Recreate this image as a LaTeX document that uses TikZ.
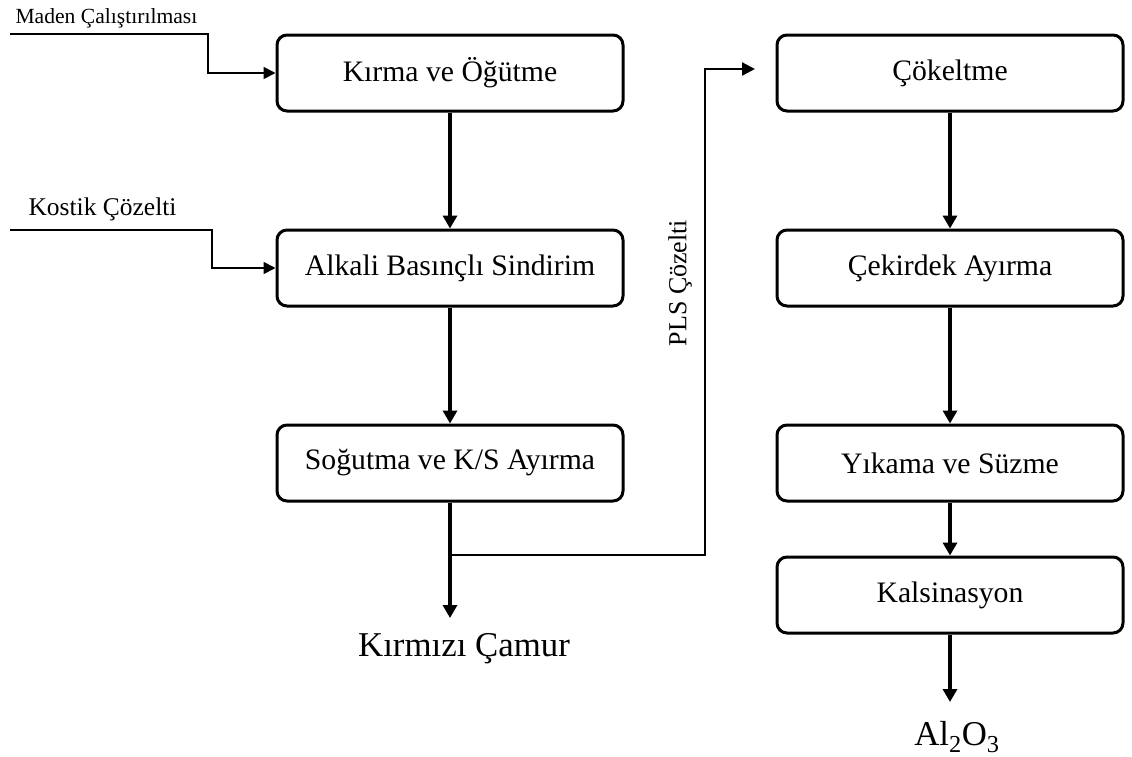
\documentclass[tikz,border=0pt]{standalone}
\usepackage{fontspec}
\setmainfont{Liberation Serif}
\usetikzlibrary{arrows.meta,positioning}

\begin{document}
\begin{tikzpicture}[x=1pt,y=-1pt,
     stepbox/.style={draw,line width=3pt,rounded corners=10pt,
       minimum width=346pt,minimum height=76pt,
       font=\fontsize{29.7}{34}\selectfont},
     flow/.style={line width=3.4pt,-{Triangle[length=13pt,width=14pt]}},
     feed/.style={line width=1.8pt,-{Triangle[length=12pt,width=12pt]}},
     lab/.style={anchor=base west}]
    \useasboundingbox (0,0) rectangle (1132,756);
    % left column
    \node[stepbox] (kirma) at (450,73) {Kırma ve Öğütme};
    \node[stepbox] (alkali) at (450,268) {Alkali Basınçlı Sindirim};
    \node[stepbox] (sogutma) at (450,463) {Soğutma ve K/S Ayırma};
    \node[anchor=base,font=\fontsize{34.8}{40}\selectfont] (camur)
      at (464,656) {Kırmızı Çamur};
    % right column
    \node[stepbox] (cokeltme) at (950,73) {Çökeltme};
    \node[stepbox] (cekirdek) at (950,268) {Çekirdek Ayırma};
    \node[stepbox] (yikama) at (950,463) {Yıkama ve Süzme};
    \node[stepbox] (kalsin) at (950,595) {Kalsinasyon};
    \node[anchor=base,font=\fontsize{34.8}{40}\selectfont] (alumina)
      at (957,745) {Al\textsubscript{2}O\textsubscript{3}};
    % feeds
    \node[lab,font=\fontsize{21.6}{24}\selectfont] (maden) at (12,23)
      {Maden Çalıştırılması};
    \node[lab,font=\fontsize{25.5}{28}\selectfont] (kostik) at (25,215)
      {Kostik Çözelti};
    \coordinate (madenin) at (10,34);
    \coordinate (kostikin) at (10,230);
    \draw[feed] (madenin) -- (208,34) |- (kirma.west);
    \draw[feed] (kostikin) -- (212,230) |- (alkali.west);
    % main flow
    \coordinate (camurtip) at (450,618);
    \coordinate (split) at (450,555);
    \coordinate (plsup) at (705,69);
    \coordinate (plstip) at (755,69);
    \draw[flow] (kirma) -- (alkali);
    \draw[flow] (alkali) -- (sogutma);
    \draw[flow] (sogutma) -- (camurtip);
    \draw[line width=2.2pt,-{Triangle[length=13pt,width=13pt]}]
      (split) -| (plsup) -- (plstip);
    \node[rotate=90,font=\fontsize{26}{30}\selectfont] (pls) at (680,283)
      {PLS Çözelti};
    \draw[flow] (cokeltme) -- (cekirdek);
    \draw[flow] (cekirdek) -- (yikama);
    \draw[flow] (yikama) -- (kalsin);
    \coordinate (alutip) at (950,702);
    \draw[flow] (kalsin) -- (alutip);
\end{tikzpicture}
\end{document}
